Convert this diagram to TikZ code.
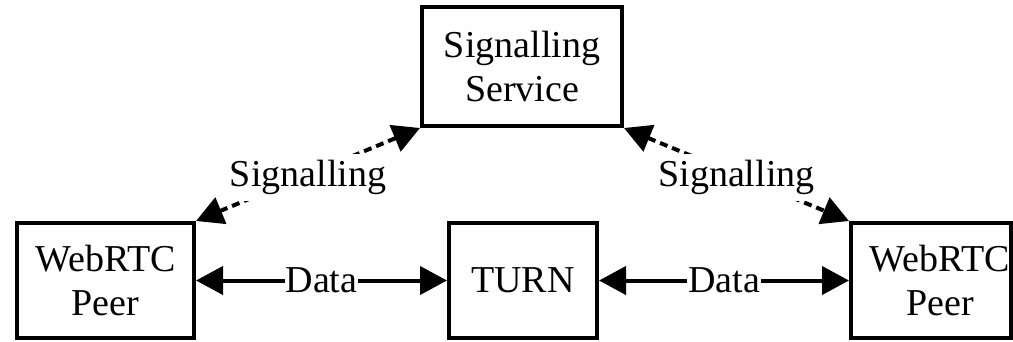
\documentclass[tikz,border=0pt]{standalone}
\usepackage{fontspec}
\setmainfont{Liberation Serif}
\usetikzlibrary{arrows.meta}
\begin{document}
\begin{tikzpicture}[x=1pt,y=-1pt,
  font=\fontsize{38}{44}\selectfont,
  >={Triangle[length=27pt,width=28pt]},
  box/.style={draw=black, line width=4pt, fill=white, align=center, inner sep=0pt},
  datalink/.style={line width=4pt, <->},
  siglink/.style={line width=4pt, dash pattern=on 8pt off 5pt, <->},
  lbl/.style={fill=white, inner xsep=1pt, inner ysep=0pt},
  siglbl/.style={fill=white, inner xsep=2pt, inner ysep=6pt, yshift=-3pt}]
\useasboundingbox (0,0) rectangle (1013,341);
% boxes
\node[box, minimum width=177pt, minimum height=115pt] (peerL) at (105.5,280.5) {WebRTC\\Peer};
\node[box, minimum width=200pt, minimum height=119pt] (sig) at (522,66.5) {Signalling\\Service};
\node[box, minimum width=148pt, minimum height=115pt] (turn) at (523,280.5) {TURN};
\node[box, minimum width=160pt, minimum height=115pt] (peerR) at (931,280.5) {};
\node[align=center, inner sep=0pt] (peerRtext) at (940,280.5) {WebRTC\\Peer};
% data connections through the relay
\draw[datalink] (peerL.east) -- node[lbl] {Data} (turn.west);
\draw[datalink] (turn.east) -- node[lbl] {Data} (peerR.west);
% signalling connections
\draw[siglink] (peerL.north east) -- node[siglbl] {Signalling} (sig.south west);
\draw[siglink] (sig.south east) -- node[siglbl] {Signalling} (peerR.north west);
\end{tikzpicture}
\end{document}
